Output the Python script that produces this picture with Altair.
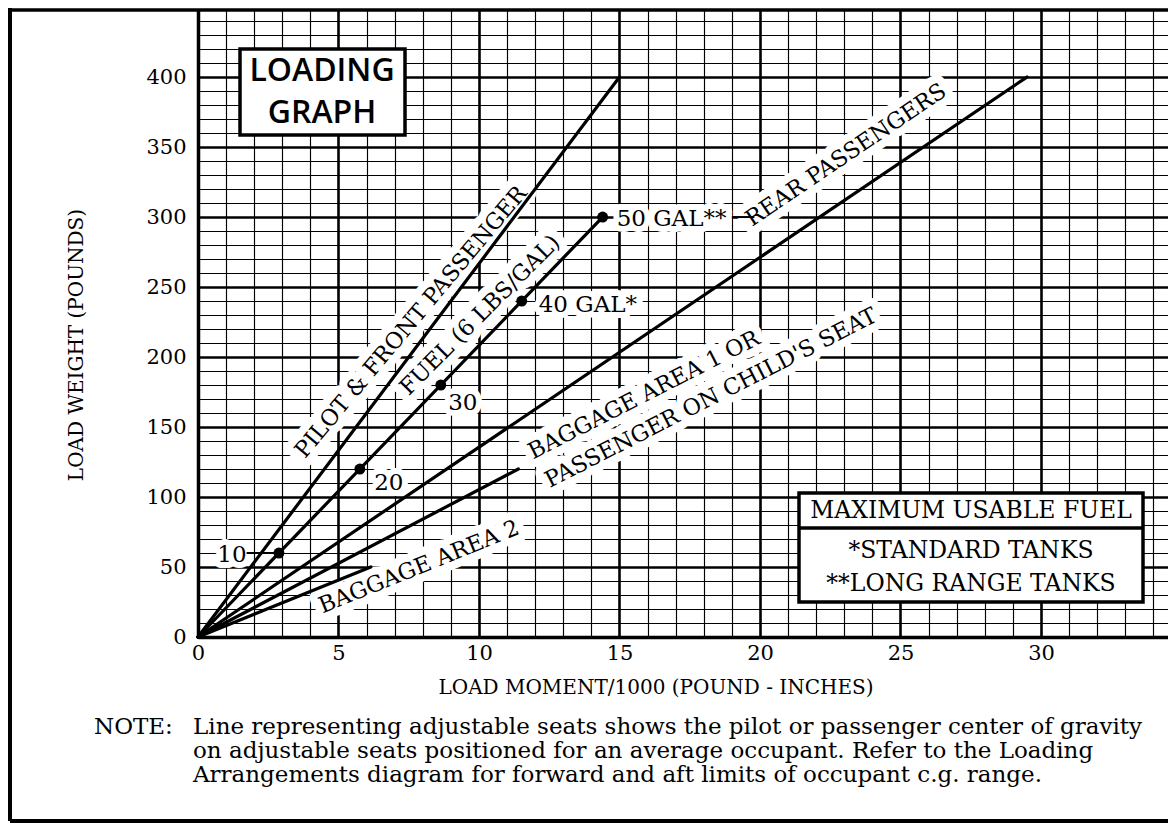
import altair as alt
import pandas as pd

# ---------------- data ----------------
line_names = ["PILOT & FRONT PASSENGER", "FUEL (6 LBS/GAL)", "REAR PASSENGERS",
              "BAGGAGE AREA 1 OR PASSENGER ON CHILD'S SEAT", "BAGGAGE AREA 2"]
line_end_moment = [15.0, 14.4, 29.5, 11.4, 6.15]   # load moment/1000 (lb-in)
line_end_weight = [400, 300, 400, 120, 50]         # load weight (lb)

fuel_gallons = [10, 20, 30, 40, 50]
fuel_weight = [60, 120, 180, 240, 300]
fuel_moment = [2.88, 5.76, 8.64, 11.52, 14.4]
fuel_labels = ["10", "20", "30", "40 GAL*", "50 GAL**"]

x_grid = [i * 0.5 for i in range(0, 70)]
y_grid = list(range(0, 450, 10))

x_title = "LOAD MOMENT/1000 (POUND - INCHES)"
y_title = "LOAD WEIGHT (POUNDS)"
title_lines = ["LOADING", "GRAPH"]
legend_header = "MAXIMUM USABLE FUEL"
legend_lines = ["*STANDARD TANKS", "**LONG RANGE TANKS"]
line_label_texts = ["PILOT & FRONT PASSENGER", "FUEL (6 LBS/GAL)", "REAR PASSENGERS",
                    "BAGGAGE AREA 1 OR", "PASSENGER ON CHILD'S SEAT", "BAGGAGE AREA 2"]
note_head = "NOTE:"
note_lines = [
    "Line representing adjustable seats shows the pilot or passenger center of gravity",
    "on adjustable seats positioned for an average occupant.  Refer to the Loading",
    "Arrangements diagram for forward and aft limits of occupant c.g. range.",
]

# ---------------- layout ----------------
W, H = 970, 627
X0, Y0 = 198, 10   # page position of plot origin, used to place annotations
SERIF = "DejaVu Serif"
SANS = "Open Sans"

xs = alt.Scale(domain=[0, 34.52], nice=False, zero=False)
ys = alt.Scale(domain=[0, 447.9], nice=False, zero=False)

xaxis = alt.Axis(values=x_grid, title=None, grid=True, gridColor="black", gridOpacity=1,
                 gridWidth={"condition": {"test": "datum.value % 5 === 0", "value": 2.6}, "value": 1.15},
                 format="d",
                 labelExpr="datum.value % 5 === 0 ? datum.label : ''",
                 labelFont=SERIF, labelFontSize=21, labelColor="black", labelPadding=5,
                 labelFlush=False, labelOverlap=False,
                 ticks=False, tickSize=0, domain=True, domainColor="black", domainWidth=3.5)
yaxis = alt.Axis(values=y_grid, title=None, grid=True, gridColor="black", gridOpacity=1,
                 gridWidth={"condition": {"test": "datum.value % 50 === 0", "value": 2.6}, "value": 1.15},
                 format="d",
                 labelExpr="datum.value % 50 === 0 ? datum.label : ''",
                 labelFont=SERIF, labelFontSize=21, labelColor="black", labelPadding=12,
                 labelFlush=False, labelOverlap=False,
                 ticks=False, tickSize=0, domain=True, domainColor="black", domainWidth=3.5)


def X(f):
    return alt.X(f, type="quantitative", scale=xs, axis=xaxis)


def Y(f):
    return alt.Y(f, type="quantitative", scale=ys, axis=yaxis)


rows = []
for n, mx, wy in zip(line_names, line_end_moment, line_end_weight):
    rows.append({"line": n, "x": 0.0, "y": 0.0})
    rows.append({"line": n, "x": mx, "y": wy})
lines_df = pd.DataFrame(rows)

fuel_df = pd.DataFrame({"x": fuel_moment, "y": fuel_weight, "gal": fuel_gallons, "label": fuel_labels})

one = pd.DataFrame({"a": [0]})


def txt(s, px, py, size=20, angle=0, align="center", font=SERIF, halo=False,
        weight="normal", halo_w=10):
    out = []
    kw = dict(text=s, font=font, fontSize=size, align=align, baseline="middle",
              angle=angle, fontWeight=weight)
    enc = dict(x=alt.value(px - X0), y=alt.value(py - Y0))
    if halo:
        out.append(alt.Chart(one).mark_text(color="white", stroke="white", strokeWidth=halo_w,
                                            strokeJoin="round", **kw).encode(**enc))
    out.append(alt.Chart(one).mark_text(color="black", **kw).encode(**enc))
    return out


def rect(px1, py1, px2, py2, sw=3.5):
    return alt.Chart(one).mark_rect(fill="white", stroke="black", strokeWidth=sw).encode(
        x=alt.value(px1 - X0), x2=alt.value(px2 - X0), y=alt.value(py1 - Y0), y2=alt.value(py2 - Y0))


def hrule(px1, px2, py, sw=3.5):
    return alt.Chart(one).mark_rule(color="black", strokeWidth=sw).encode(
        x=alt.value(px1 - X0), x2=alt.value(px2 - X0), y=alt.value(py - Y0))


def vrule(px, py1, py2, sw=3.5):
    return alt.Chart(one).mark_rule(color="black", strokeWidth=sw).encode(
        x=alt.value(px - X0), y=alt.value(py1 - Y0), y2=alt.value(py2 - Y0))


layers = []

# halos of line labels first (clear grid), then lines on top, then text
LBL = 22.5
lab_specs = [
    (line_label_texts[0], 411, 322, 310),
    (line_label_texts[1], 480, 315, 315),
    (line_label_texts[2], 846, 155, 326),
    (line_label_texts[3], 644, 395, 333),
    (line_label_texts[4], 711, 398, 333),
    (line_label_texts[5], 419, 567, 338),
]
label_layers = []
for s, px, py, ang in lab_specs:
    h, t = txt(s, px, py, size=LBL, angle=ang, halo=True, halo_w=16)
    layers.append(h)
    label_layers.append(t)

# fuel label halos
FL = 23
fuel_offsets = {10: (-47, 2, "center"), 20: (29, 14, "center"), 30: (22, 18, "center"),
                40: (17, 4, "left"), 50: (14, 2, "left")}
fuel_text_layers = []
for g, (dx, dy, al) in fuel_offsets.items():
    base = alt.Chart(fuel_df).transform_filter(alt.datum.gal == g)
    layers.append(base.mark_text(font=SERIF, fontSize=FL, align=al, baseline="middle", dx=dx, dy=dy,
                                 color="white", stroke="white", strokeWidth=12, strokeJoin="round")
                  .encode(x=X("x"), y=Y("y"), text="label:N"))
    fuel_text_layers.append(base.mark_text(font=SERIF, fontSize=FL, align=al, baseline="middle",
                                           dx=dx, dy=dy, color="black")
                            .encode(x=X("x"), y=Y("y"), text="label:N"))

# loading lines
layers.append(alt.Chart(lines_df).mark_line(color="black", strokeWidth=3.2, strokeCap="round")
              .encode(x=X("x"), y=Y("y"), detail="line:N", order="x:Q"))

# leader lines for fuel labels
layers.append(alt.Chart(fuel_df).transform_filter(alt.datum.gal == 10)
              .transform_calculate(lx="datum.x - 1.15")
              .mark_rule(color="black", strokeWidth=2)
              .encode(x=X("lx"), x2="x", y=Y("y")))
layers.append(alt.Chart(fuel_df).transform_filter(alt.datum.gal == 50)
              .transform_calculate(lx="datum.x + 4.6", rx="datum.x + 5.4")
              .mark_rule(color="black", strokeWidth=2)
              .encode(x=X("lx"), x2="rx", y=Y("y")))

# fuel points
layers.append(alt.Chart(fuel_df).mark_circle(size=120, color="black", opacity=1)
              .encode(x=X("x"), y=Y("y")))

layers += label_layers
layers += fuel_text_layers

# title box
layers.append(rect(240, 49, 405, 135))
layers += txt(title_lines[0], 322, 71, size=32, font=SANS, weight=600)
layers += txt(title_lines[1], 322, 113, size=32, font=SANS, weight=600)

# legend box
LG = 23.5
layers.append(rect(799, 493, 1143, 602))
layers.append(hrule(799, 1143, 528))
layers += txt(legend_header, 971, 511, size=LG)
layers += txt(legend_lines[0], 971, 551, size=LG)
layers += txt(legend_lines[1], 971, 584, size=LG)

# axis titles
layers += txt(x_title, 656, 688, size=20)
layers += txt(y_title, 77, 345, size=20, angle=270)

# note
NT = 23
layers += txt(note_head, 94, 727, size=NT, align="left")
for i, s in enumerate(note_lines):
    layers += txt(s, 193, 727 + 24 * i, size=NT, align="left")

# outer frame and top border of the graph
layers.append(hrule(10, 1168, 10, sw=3.5))
layers.append(vrule(10, 8, 821, sw=4))
layers.append(hrule(10, 1168, 821, sw=4))

chart = alt.layer(*layers).properties(
    width=W, height=H,
    autosize=alt.AutoSizeParams(type="none"),
    padding={"left": 190, "top": 2, "right": 0, "bottom": 187},
).configure_view(strokeWidth=0)

chart.save("out.html", embed_options={"renderer": "svg", "actions": False})
